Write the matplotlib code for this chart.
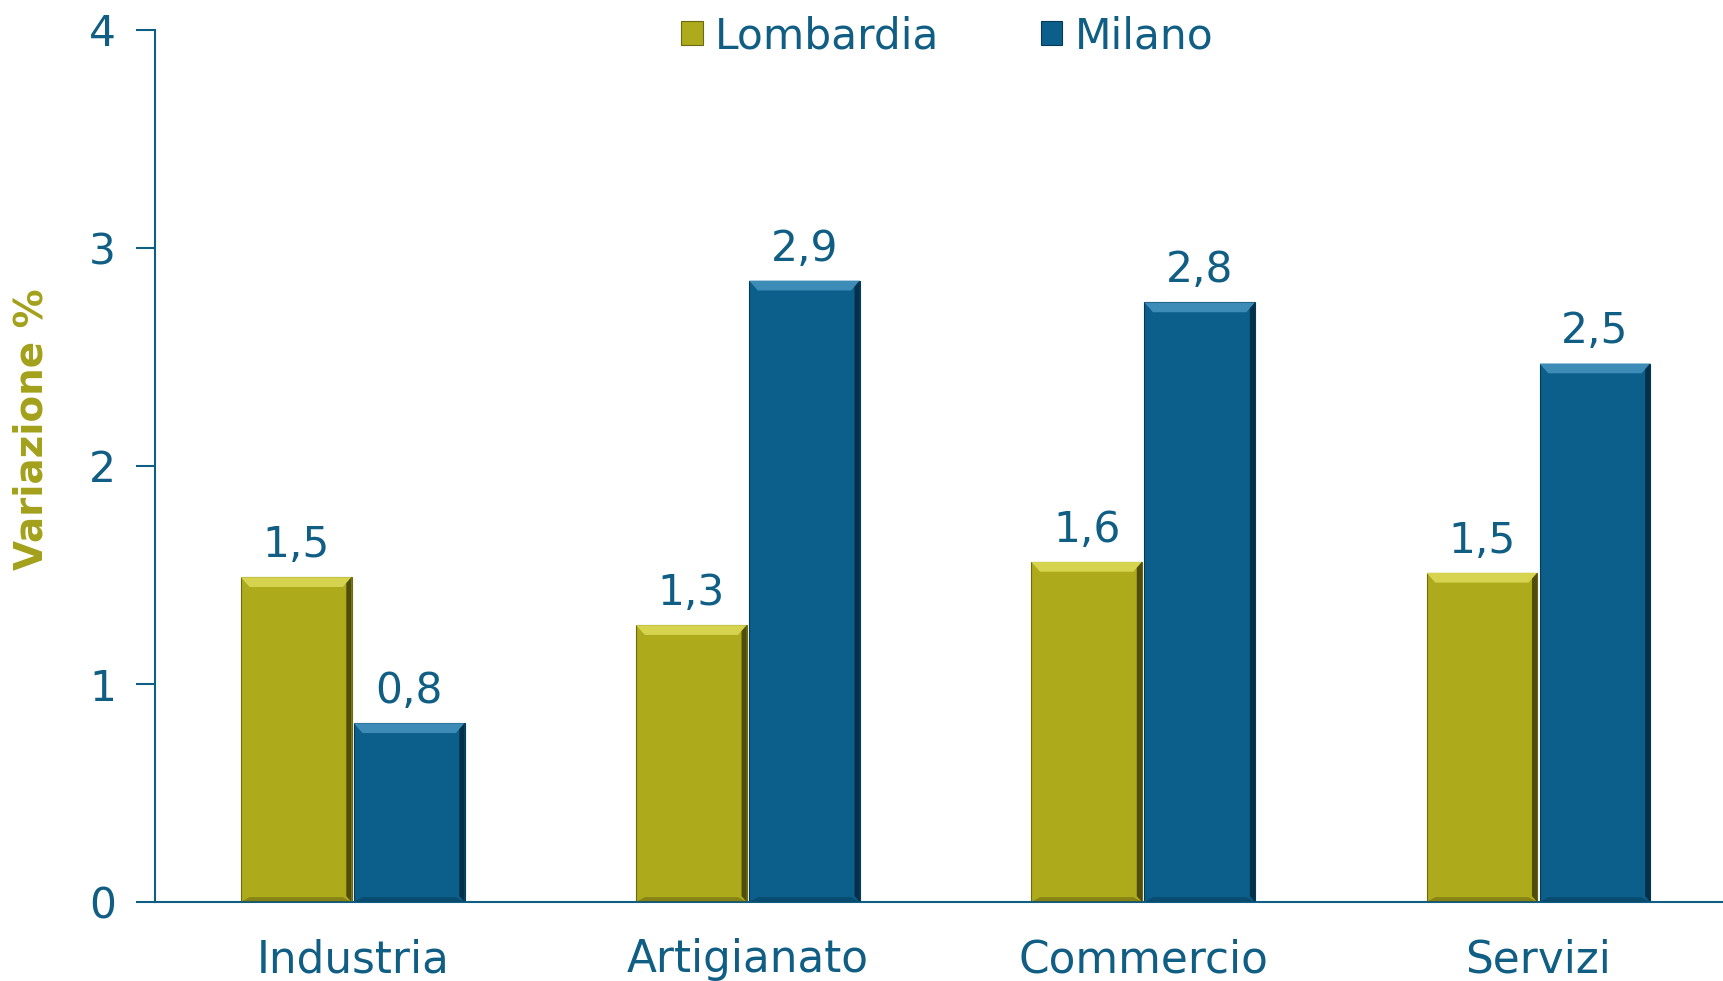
import matplotlib.pyplot as plt
from matplotlib.patches import Polygon
import numpy as np

categorie = ['Industria', 'Artigianato', 'Commercio', 'Servizi']
lombardia = [1.49, 1.27, 1.56, 1.51]
milano = [0.82, 2.85, 2.75, 2.47]
etichette_lomb = ['1,5', '1,3', '1,6', '1,5']
etichette_mil = ['0,8', '2,9', '2,8', '2,5']

blu = '#0B5F8A'
oliva = '#ADAA1C'
testo = '#115E85'

plt.rcParams['font.family'] = ['DejaVu Sans']

fig = plt.figure(figsize=(17.23, 9.81), dpi=100)
ax = fig.add_axes([0.09, 0.0805, 0.91, 0.889])

x = np.arange(len(categorie))
w = 0.28
off = 0.143


def smusso(ax, bars, chiaro, scuro):
    """Disegna un effetto a rilievo sopra ogni barra"""
    for b in bars:
        x0 = b.get_x()
        x1 = x0 + b.get_width()
        top = b.get_height()
        dx = 0.022
        dy = 0.045
        # bordo superiore chiaro
        ax.add_patch(Polygon([(x0, top), (x1, top), (x1 - dx, top - dy), (x0 + dx, top - dy)],
                             closed=True, color=chiaro, lw=0, zorder=3))
        # lato destro scuro
        ax.add_patch(Polygon([(x1, top), (x1, 0), (x1 - dx * 0.6, dy * 0.6), (x1 - dx * 0.6, top - dy * 0.6)],
                             closed=True, color=scuro, lw=0, zorder=3))
        # lato inferiore
        ax.add_patch(Polygon([(x0, 0), (x1, 0), (x1 - dx, dy * 0.5), (x0 + dx, dy * 0.5)],
                             closed=True, color=scuro, alpha=0.4, lw=0, zorder=3))


b1 = ax.bar(x - off, lombardia, w, color=oliva, edgecolor='#6d6b12', linewidth=0.8, zorder=2, label='Lombardia')
b2 = ax.bar(x + off, milano, w, color=blu, edgecolor='#063a55', linewidth=0.8, zorder=2, label='Milano')
smusso(ax, b1, '#D6D44E', '#4f4d0c')
smusso(ax, b2, '#3D8CB8', '#05304a')

for b, t in zip(b1, etichette_lomb):
    ax.annotate(t, (b.get_x() + b.get_width() / 2, b.get_height()), xytext=(0, 8),
                textcoords='offset points', ha='center', va='bottom', fontsize=30.5, color=testo)
for b, t in zip(b2, etichette_mil):
    ax.annotate(t, (b.get_x() + b.get_width() / 2, b.get_height()), xytext=(0, 8),
                textcoords='offset points', ha='center', va='bottom', fontsize=30.5, color=testo)

ax.set_xlim(-0.5, 3.467)
ax.set_ylim(0, 4)
ax.set_yticks([0, 1, 2, 3, 4])
ax.set_xticks(x)
ax.set_xticklabels(categorie)
ax.tick_params(axis='y', length=14, width=1.5, color=testo, labelcolor=testo, labelsize=30.5, pad=14)
ax.tick_params(axis='x', length=0, labelcolor=testo, labelsize=31.5, pad=26)

for s in ['top', 'right']:
    ax.spines[s].set_visible(False)
ax.spines['left'].set_color(testo)
ax.spines['bottom'].set_color(testo)
ax.spines['left'].set_linewidth(1.5)
ax.spines['bottom'].set_linewidth(1.5)

fig.text(0.018, 0.563, 'Variazione %', rotation=90, ha='center', va='center',
         fontsize=28, fontweight='bold', color='#A3A11A')

fig.legend(handles=[b1, b2], labels=['Lombardia', 'Milano'], loc='center',
           bbox_to_anchor=(0.55, 0.963), ncol=2, frameon=False, fontsize=30.5,
           labelcolor=testo, handlelength=0.5, handleheight=0.5, handletextpad=0.3,
           columnspacing=2.4)

fig.savefig('out.png', dpi=100)
